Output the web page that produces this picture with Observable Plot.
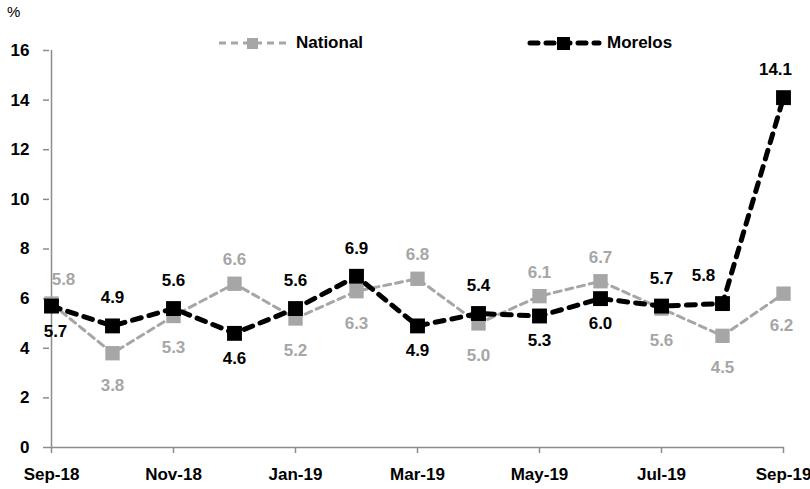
<!DOCTYPE html>
<html>
<head>
<meta charset="utf-8">
<script src="https://cdn.jsdelivr.net/npm/d3@7"></script>
<script src="https://cdn.jsdelivr.net/npm/@observablehq/plot@0.6"></script>
<style>
  html, body { margin: 0; padding: 0; background: #fff; }
  body { width: 810px; height: 489px; position: relative; overflow: hidden;
         font-family: "Liberation Sans", Arial, sans-serif; font-weight: bold; }
  #chart { position: absolute; left: 0; top: 0; }
  .pct { position: absolute; left: 7px; top: 3px; font-size: 15px; font-weight: normal; color: #000; }
  .leg { position: absolute; top: 33px; height: 20px; display: flex; align-items: center; font-size: 17px; color: #000; }
  .leg svg { margin-right: 5px; }
</style>
</head>
<body>
<div id="chart"></div>
<div class="pct">%</div>
<div class="leg" style="left:219px"><svg width="72" height="16"><line x1="0" y1="8" x2="72" y2="8" stroke="#A6A6A6" stroke-width="3" stroke-dasharray="7,5"/><rect x="28" y="3" width="11" height="11" fill="#A6A6A6"/></svg>National</div>
<div class="leg" style="left:527px"><svg width="75" height="18"><line x1="3" y1="9" x2="72" y2="9" stroke="#000" stroke-width="5" stroke-dasharray="8,8" stroke-linecap="round"/><rect x="30" y="3" width="13" height="13" fill="#000"/></svg>Morelos</div>
<script>
const months = ["Sep-18","Oct-18","Nov-18","Dec-18","Jan-19","Feb-19","Mar-19","Apr-19","May-19","Jun-19","Jul-19","Aug-19","Sep-19"];
const national = [5.8, 3.8, 5.3, 6.6, 5.2, 6.3, 6.8, 5.0, 6.1, 6.7, 5.6, 4.5, 6.2];
const morelos  = [5.7, 4.9, 5.6, 4.6, 5.6, 6.9, 4.9, 5.4, 5.3, 6.0, 5.7, 5.8, 14.1];
const yTicks = [0, 2, 4, 6, 8, 10, 12, 14, 16];
const xTicks = ["Sep-18","Nov-18","Jan-19","Mar-19","May-19","Jul-19","Sep-19"];
// label placement (a = above, b = below)
const natPlace = ["a","b","b","a","b","b","a","b","a","a","b","b","b"];
const morPlace = ["b","a","a","b","a","a","b","a","b","b","a","a","a"];

const nat = months.map((m, i) => ({m, v: national[i], p: natPlace[i], i}));
const mor = months.map((m, i) => ({m, v: morelos[i], p: morPlace[i], i}));

const grey = "#A6A6A6";
const axisGrey = "#8C8C8C";
const font = '"Liberation Sans", Arial, sans-serif';

// horizontal nudges for a few labels (styling only)
const natNudge = {0: 12, 12: -2};
const morNudge = {0: 4, 11: -19, 12: -8};

function labels(data, color, nudge, dyAbove, dyBelow) {
  const marks = [];
  for (const [place, dy] of [["a", dyAbove], ["b", dyBelow]]) {
    const sub = data.filter(d => d.p === place);
    const groups = d3.group(sub, d => nudge[d.i] || 0);
    for (const [dx, arr] of groups) {
      marks.push(Plot.text(arr, {x: "m", y: "v", text: d => d.v.toFixed(1), fill: color,
        dx, dy, fontSize: 17, fontWeight: "bold"}));
    }
  }
  return marks;
}

const plot = Plot.plot({
  width: 810,
  height: 489,
  marginLeft: 49,
  marginRight: 26,
  marginTop: 50,
  marginBottom: 42,
  style: {fontFamily: font, fontWeight: "bold", fontSize: "17px", background: "transparent"},
  x: {type: "point", domain: months, padding: 0},
  y: {domain: [0, 16]},
  marks: [
    Plot.ruleX([months[0]], {stroke: axisGrey, strokeWidth: 1.5}),
    Plot.ruleY([0], {stroke: axisGrey, strokeWidth: 1.5}),
    Plot.axisY({ticks: yTicks, tickSize: 6, stroke: axisGrey, strokeWidth: 1.5, tickPadding: 14, label: null, fontSize: 17, fill: "#000"}),
    Plot.axisX({ticks: xTicks, tickSize: 6, stroke: axisGrey, strokeWidth: 1.5, tickPadding: 14, label: null, fontSize: 17, fill: "#000"}),
    Plot.line(nat, {x: "m", y: "v", stroke: grey, strokeWidth: 3, strokeDasharray: "7,5"}),
    Plot.dot(nat, {x: "m", y: "v", symbol: "square", r: 8.1, fill: grey, stroke: "none"}),
    Plot.line(mor, {x: "m", y: "v", stroke: "#000", strokeWidth: 5, strokeDasharray: "9,8", strokeLinecap: "round"}),
    Plot.dot(mor, {x: "m", y: "v", symbol: "square", r: 8.4, fill: "#000", stroke: "none"}),
    ...labels(nat, grey, natNudge, -24, 32),
    ...labels(mor, "#000", morNudge, -28, 25)
  ]
});
document.getElementById("chart").appendChild(plot);
</script>
</body>
</html>
